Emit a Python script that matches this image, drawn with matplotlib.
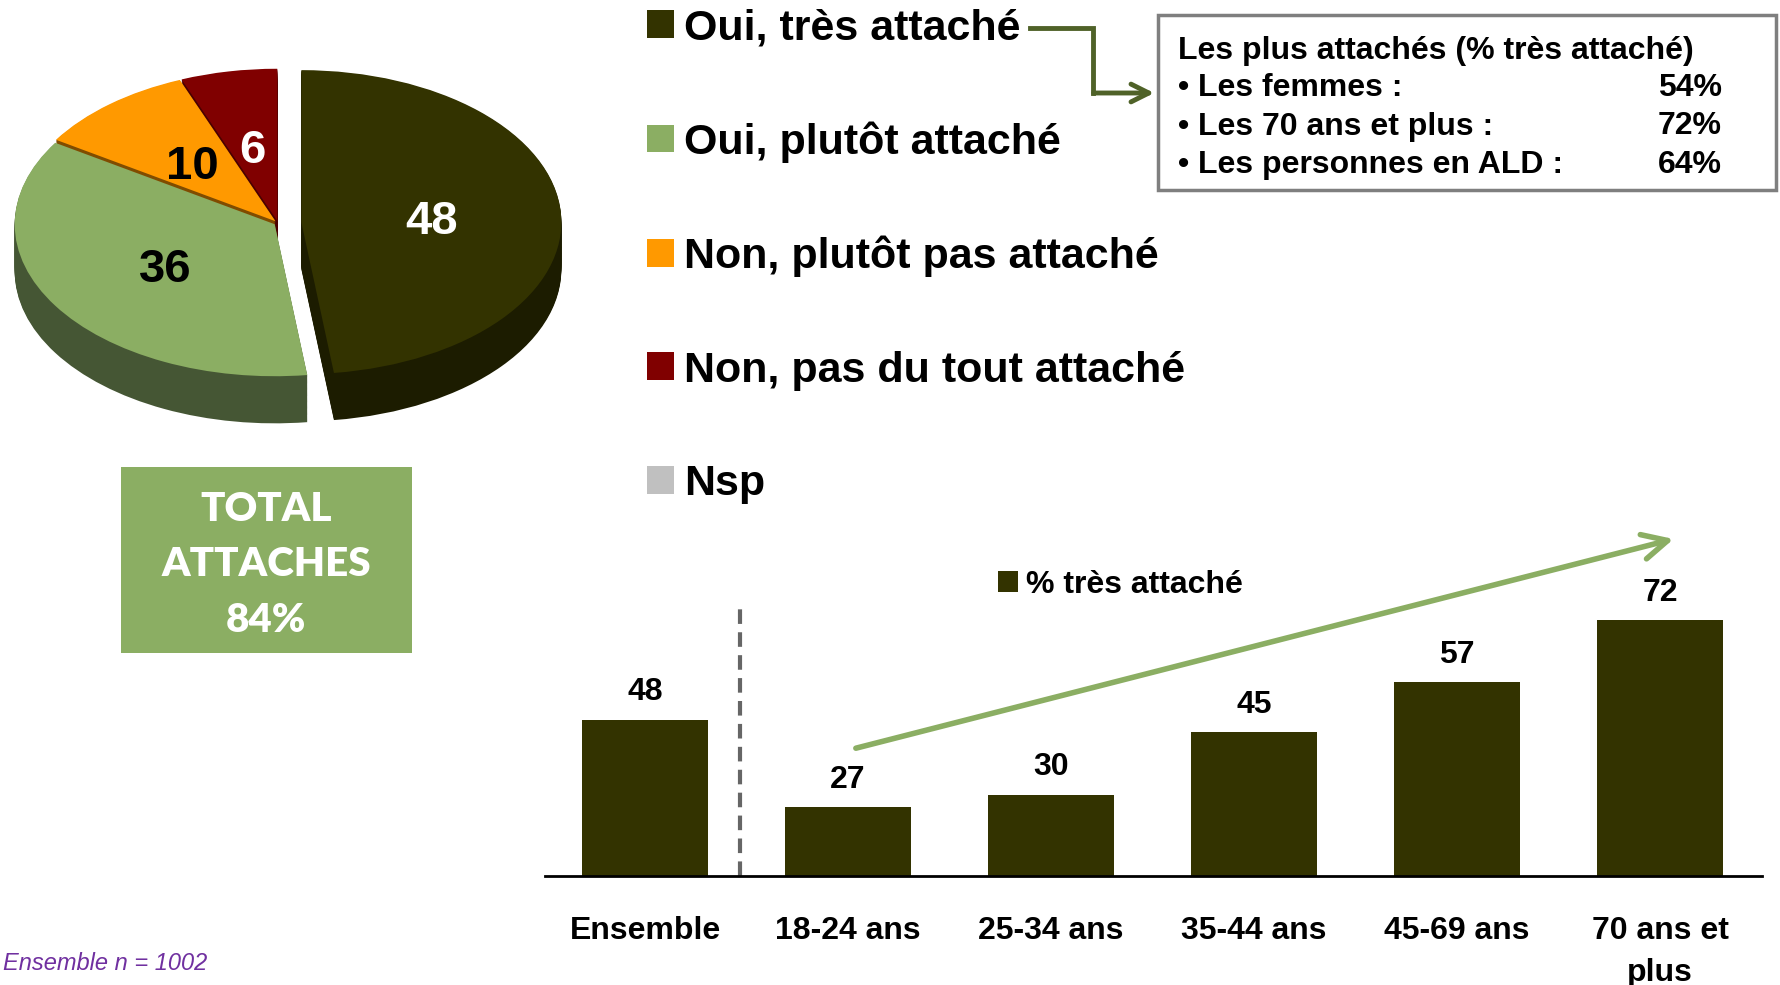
import matplotlib
matplotlib.use("Agg")
import matplotlib.pyplot as plt
import numpy as np
from matplotlib.patches import Rectangle

plt.rcParams['font.family'] = ['Liberation Sans', 'DejaVu Sans']
plt.rcParams['font.weight'] = 'bold'

# pie: "attaché" breakdown
pie_labels = ["Oui, très attaché", "Oui, plutôt attaché", "Non, plutôt pas attaché",
              "Non, pas du tout attaché", "Nsp"]
pie_values = [48, 36, 10, 6, 0]
pie_colors = ["#333300", "#8BAE63", "#FF9900", "#800000", "#C0C0C0"]
side_colors = ["#1C1C00", "#455634", "#804C00", "#4A0000", "#808080"]
pie_text_colors = ["white", "black", "black", "white", "black"]
total_attached = 84

# bars: % très attaché by age
bar_cats = ["Ensemble", "18-24 ans", "25-34 ans", "35-44 ans", "45-69 ans", "70 ans et\nplus"]
bar_values = [48, 27, 30, 45, 57, 72]

# box: most attached groups
top_groups = ["Les femmes :", "Les 70 ans et plus :", "Les personnes en ALD :"]
top_values = [54, 72, 64]

DARK = "#333300"
GREEN = "#8BAE63"
W, H = 1780, 985
fig = plt.figure(figsize=(W / 100, H / 100), dpi=100)


def fbox(x0, y0, x1, y1):
    # pixel box (from top-left) -> figure fraction rect
    return [x0 / W, 1 - y1 / H, (x1 - x0) / W, (y1 - y0) / H]


# --- 3D-ish pie ---
cx, cy, rx, ry = 278, 223, 260, 152
px0, py0, px1, py1 = 0, 30, 600, 470
axp = fig.add_axes(fbox(px0, py0, px1, py1))
explode = [0.09, 0.015, 0.015, 0.015, 0]
depth = 0.31
for d in np.linspace(depth, 0.005, 40):
    axp.pie(pie_values, explode=explode, colors=side_colors, startangle=90,
            counterclock=False, center=(0, -d), wedgeprops=dict(linewidth=0))
wedges, _, autotexts = axp.pie(
    pie_values, explode=explode, colors=pie_colors, startangle=90, counterclock=False,
    autopct=lambda p: f"{p:.0f}" if p > 0 else "", pctdistance=0.5,
    wedgeprops=dict(linewidth=0), textprops=dict(fontsize=34, fontweight="bold"))
for t, c in zip(autotexts, pie_text_colors):
    t.set_color(c)
    tx, ty = t.get_position()
    t.set_position((tx, ty - 0.03))
axp.set_aspect("auto")
axp.set_xlim((px0 - cx) / rx, (px1 - cx) / rx)
axp.set_ylim(-(py1 - cy) / ry, (cy - py0) / ry)
axp.axis("off")

fig.legend(wedges, pie_labels, loc="upper left", bbox_to_anchor=(647 / W, 1 - 8 / H),
           frameon=False, fontsize=31, handlelength=0.62, handleheight=0.62,
           handletextpad=0.25, labelspacing=1.7, borderpad=0, borderaxespad=0)

# --- bar chart ---
axb = fig.add_axes(fbox(545, 530, 1762, 876))
x = np.arange(len(bar_values))
bars = axb.bar(x, bar_values, width=0.62, color=DARK, label="% très attaché")
axb.set_xlim(-0.493, 5.502)
axb.set_ylim(10.4, 93.7)
for s in ["top", "left", "right"]:
    axb.spines[s].set_visible(False)
axb.spines["bottom"].set_linewidth(2)
axb.set_yticks([])
axb.set_xticks(x, bar_cats)
axb.tick_params(length=0, pad=29, labelsize=23)
for lbl in axb.get_xticklabels():
    lbl.set_linespacing(1.5)
axb.bar_label(bars, padding=9, fontsize=23, fontweight="bold")
axb.axvline(0.47, ymin=0, ymax=0.776, color="#666666", lw=3, dashes=(3.5, 2))
axb.annotate("", xy=(5.08, 91.7), xytext=(1.025, 41), annotation_clip=False,
             arrowprops=dict(arrowstyle="->", color=GREEN, lw=4, mutation_scale=45))
axb.legend(loc="upper left", bbox_to_anchor=(998 / W, 1 - 570 / H),
           bbox_transform=fig.transFigure, frameon=False, fontsize=23,
           handlelength=0.62, handleheight=0.62, handletextpad=0.25,
           borderpad=0, borderaxespad=0)

# --- overlay in pixel coords for boxes and connector ---
ov = fig.add_axes([0, 0, 1, 1])
ov.set_xlim(0, W)
ov.set_ylim(H, 0)
ov.axis("off")

ov.plot([1030, 1093, 1093], [28, 28, 93], color="#4F6228", lw=3.5,
        solid_joinstyle="miter")
ov.annotate("", xy=(1157, 93), xytext=(1091, 93),
            arrowprops=dict(arrowstyle="->", color="#4F6228", lw=3.5, mutation_scale=32))

ov.add_patch(Rectangle((1158, 15), 618, 175, facecolor="white", edgecolor="#7F7F7F", lw=2.5))
ov.text(1178, 51, "Les plus attachés (% très attaché)", fontsize=23, va="center")
for i, (g, v) in enumerate(zip(top_groups, top_values)):
    yy = 88 + i * 38.5
    ov.text(1178, yy, "• " + g, fontsize=23, va="center")
    ov.text(1722, yy, f"{v}%", fontsize=23, va="center", ha="right")

ov.add_patch(Rectangle((121, 467), 291, 186, facecolor=GREEN, edgecolor="none"))
ov.text(266, 565, f"TOTAL\nATTACHES\n{total_attached}%", ha="center", va="center",
        color="white", fontsize=29, family=["Lato", "DejaVu Sans"], fontweight="heavy",
        linespacing=1.63)

fig.text(3 / W, 1 - 963 / H, "Ensemble n = 1002", color="#7030A0", style="italic",
         fontweight="normal", fontsize=17, va="center")

fig.savefig("out.png", dpi=100)
